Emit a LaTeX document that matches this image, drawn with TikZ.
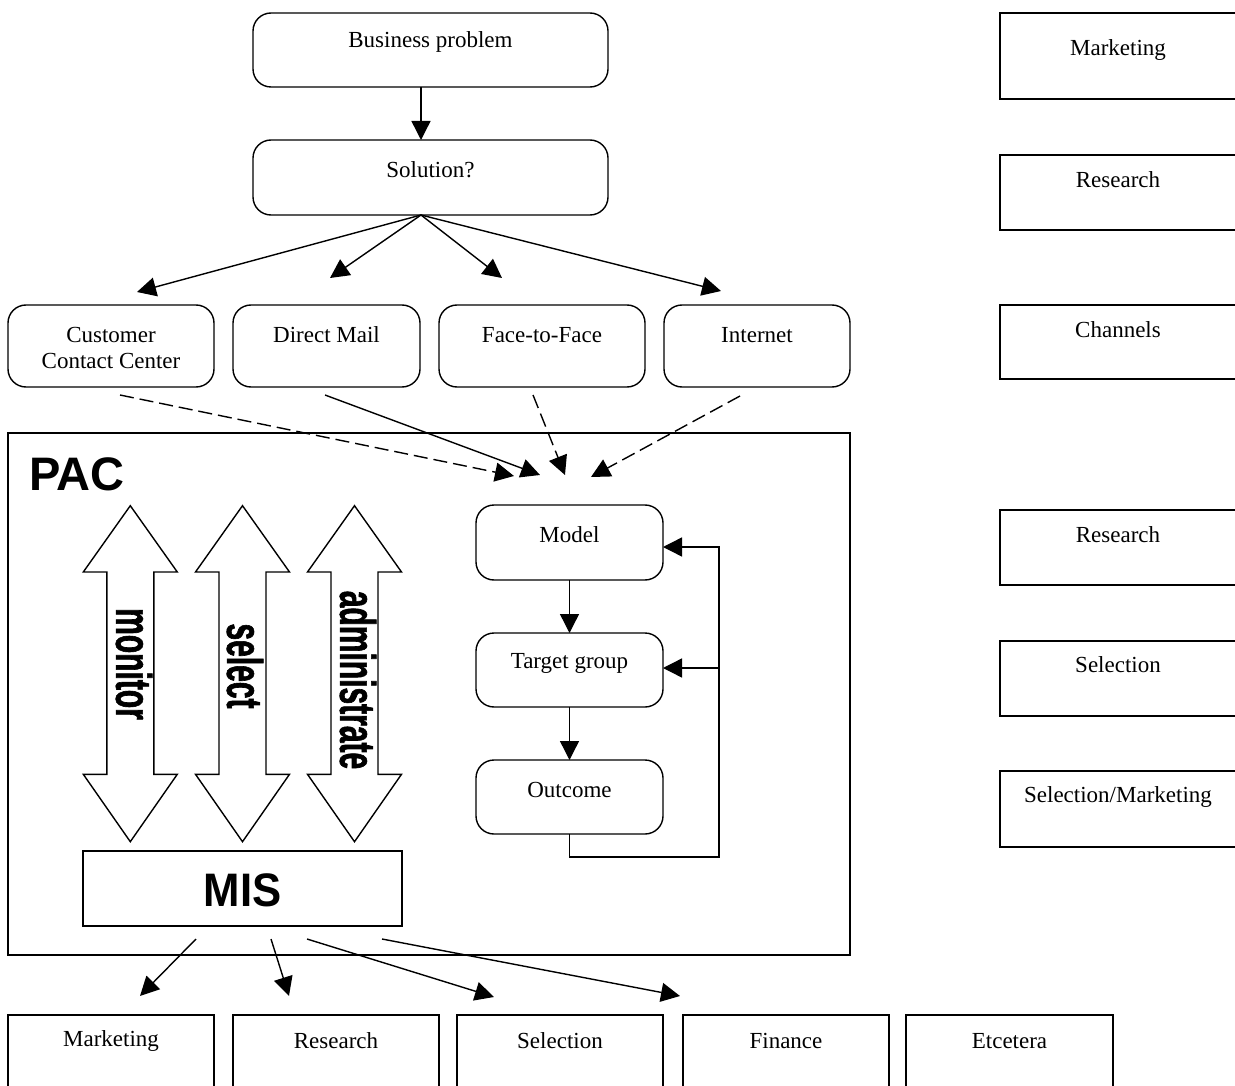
\documentclass[tikz,border=0pt]{standalone}
\usepackage{fontspec}
\usepackage{graphicx}
\setmainfont{Liberation Serif}
\setsansfont{Liberation Sans}
\newfontfamily\vertfont[FakeStretch=0.6,FakeBold=1.2]{Liberation Sans Bold}
\usetikzlibrary{arrows.meta}
\begin{document}
\begin{tikzpicture}[x=1pt,y=-1pt,
  every node/.style={inner sep=0pt, outer sep=0pt},
  rbox/.style={draw, line width=1.4pt, rounded corners=18pt},
  sbox/.style={draw, line width=1.4pt},
  lbl/.style={font=\fontsize{23}{26}\selectfont, align=center},
  big/.style={font=\fontsize{47}{50}\selectfont\sffamily\bfseries},
  vlbl/.style={font=\fontsize{50}{50}\selectfont\vertfont, rotate=-90},
  arr/.style={line width=1.4pt, -{Triangle[length=19pt,width=19pt]}},
  darr/.style={arr, dash pattern=on 14pt off 6pt},
  dbl/.style={draw, line width=1.4pt, fill=white}
]
\useasboundingbox (0,0) rectangle (1235,1086);
\fill[white] (0,0) rectangle (1235,1086);

% top flow
\node[rbox, minimum width=355pt, minimum height=74pt] (bp) at (430.5,50) {};
\node[lbl] (bpt) at (430.5,42) {Business problem};
\node[rbox, minimum width=355pt, minimum height=75pt] (sol) at (430.5,177.5) {};
\node[lbl] (solt) at (430.5,170) {Solution?};
\draw[arr] (421,87) -- (421,140);

% channels
\node[rbox, minimum width=206pt, minimum height=82pt] (ccc) at (111,346) {};
\node[lbl] (ccct) at (111,348) {Customer\\Contact Center};
\node[rbox, minimum width=187pt, minimum height=82pt] (dm) at (326.5,346) {};
\node[lbl] (dmt) at (326.5,335) {Direct Mail};
\node[rbox, minimum width=206pt, minimum height=82pt] (f2f) at (542,346) {};
\node[lbl] (f2ft) at (542,335) {Face-to-Face};
\node[rbox, minimum width=186pt, minimum height=82pt] (inet) at (757,346) {};
\node[lbl] (inett) at (757,335) {Internet};

\coordinate (sb) at (421,215);
\coordinate (t1) at (137,292);
\coordinate (t2) at (330,278);
\coordinate (t3) at (502,278);
\coordinate (t4) at (721,291);
\foreach \t in {t1,t2,t3,t4} \draw[arr] (sb) -- (\t);

% PAC
\node[sbox, minimum width=842pt, minimum height=522pt] (pac) at (429,694) {};
\node[big, anchor=west] (pact) at (29,474) {PAC};

\coordinate (c1) at (120,395); \coordinate (e1) at (514,476);
\coordinate (c2) at (325,395); \coordinate (e2) at (540,475);
\coordinate (c3) at (533,395); \coordinate (e3) at (565,475);
\coordinate (c4) at (740,396); \coordinate (e4) at (591,477);
\draw[darr] (c1) -- (e1);
\draw[arr] (c2) -- (e2);
\draw[darr] (c3) -- (e3);
\draw[darr] (c4) -- (e4);

% model loop
\node[rbox, minimum width=187pt, minimum height=75pt] (model) at (569.5,542.5) {};
\node[lbl] (modelt) at (569.5,535) {Model};
\node[rbox, minimum width=187pt, minimum height=74pt] (tg) at (569.5,670) {};
\node[lbl] (tgt) at (569.5,663) {Target group};
\node[rbox, minimum width=187pt, minimum height=74pt] (out) at (569.5,797) {};
\node[lbl] (outt) at (569.5,790) {Outcome};
\draw[arr] (model.south) -- (tg.north);
\draw[arr] (tg.south) -- (out.north);
\coordinate (fbb) at (719,857);
\coordinate (fbt) at (719,547);
\coordinate (fbm) at (719,668);
\draw[arr] (out.south) |- (fbb) -- (fbt) -- (model.east |- fbt);
\draw[arr] (fbm) -- (tg.east |- fbm);

% double arrows
\foreach \cx in {130.3, 242.5, 354.5}{
  \draw[dbl] (\cx,505.7) -- (\cx+47,572) -- (\cx+23.5,572) -- (\cx+23.5,774.3) -- (\cx+47,774.3)
    -- (\cx,841.7) -- (\cx-47,774.3) -- (\cx-23.5,774.3) -- (\cx-23.5,572) -- (\cx-47,572) -- cycle;
}
\node[vlbl] (mon) at (134,664) {monitor};
\node[vlbl] (sel) at (245,666) {select};
\node[vlbl] (adm) at (358,680) {administrate};

% MIS
\node[sbox, minimum width=319pt, minimum height=75pt] (mis) at (242.5,888.5) {};
\node[big] (mist) at (242.5,890) {\scalebox{0.93}[1]{MIS}};

\coordinate (m1) at (196,939); \coordinate (n1) at (140,996);
\coordinate (m2) at (271,939); \coordinate (n2) at (289,996);
\coordinate (m3) at (307,939); \coordinate (n3) at (494,997);
\coordinate (m4) at (382,939); \coordinate (n4) at (680,996);
\draw[arr] (m1) -- (n1);
\draw[arr] (m2) -- (n2);
\draw[arr] (m3) -- (n3);
\draw[arr] (m4) -- (n4);

% bottom boxes
\foreach \nm/\xa/\xb/\tx in {bm/8/214/Marketing, br/233/439/Research, bs/457/663/Selection, bf/683/889/Finance, be/906/1113/Etcetera}{
  \node[sbox, minimum width=\xb-\xa, minimum height=90pt] (\nm) at ({(\xa+\xb)/2},1060) {};
  \node[lbl] (\nm t) at ({(\xa+\xb)/2},1041) {\tx};
}

% right column
\foreach \nm/\ya/\yb/\ty/\tx in {r1/13/99/50/Marketing, r2/155/230/180/Research, r3/305/379/330/Channels, r4/510/585/535/Research, r5/641/716/665/Selection, r6/771/847/797/Selection\slash Marketing}{
  \node[sbox, minimum width=240pt, minimum height=\yb-\ya] (\nm) at (1120,{(\ya+\yb)/2}) {};
  \node[lbl] (\nm t) at (1118,\ty) {\tx};
}
\end{tikzpicture}
\end{document}
